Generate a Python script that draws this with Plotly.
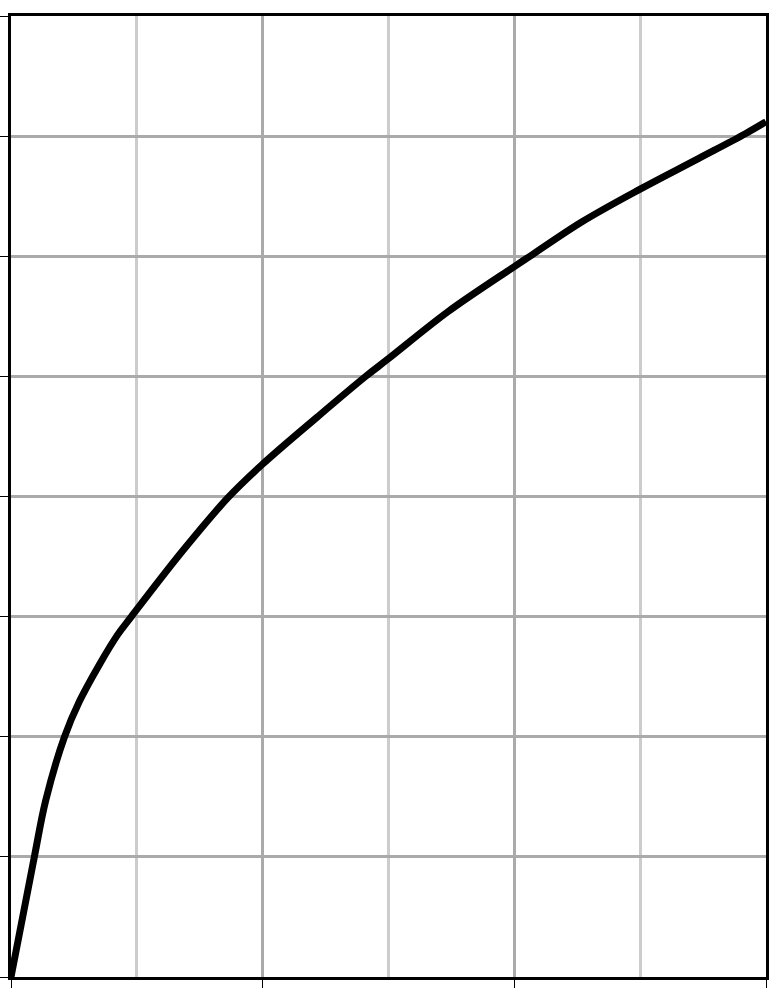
import plotly.graph_objects as go

x_vals = [0.0, 0.092, 0.138, 0.212, 0.272, 0.351, 0.424, 0.476, 0.683, 0.863, 0.997,
          1.216, 1.408, 1.499, 1.736, 2.0, 2.069, 2.269, 2.5, 2.733, 2.918, 3.0]
y_vals = [0.0, 0.992, 1.47, 1.996, 2.295, 2.60, 2.850, 2.994, 3.55, 3.992, 4.264,
          4.66, 4.998, 5.146, 5.538, 5.914, 6.01, 6.287, 6.559, 6.815, 7.02, 7.12]

fig = go.Figure()
fig.add_trace(go.Scatter(x=x_vals, y=y_vals, mode="lines",
                         line=dict(color="black", width=7, shape="spline", smoothing=1.0),
                         hoverinfo="skip", showlegend=False))

fig.update_layout(
    width=774, height=988,
    margin=dict(l=4, r=8, t=16, b=2),
    paper_bgcolor="white", plot_bgcolor="white",
)
fig.update_xaxes(range=[0, 3], dtick=1, tick0=0, showticklabels=False,
                 ticks="outside", ticklen=9, tickwidth=1, tickcolor="black",
                 showgrid=True, gridcolor="#aaaaaa", gridwidth=3,
                 minor=dict(dtick=0.5, showgrid=True, gridcolor="#cccccc", gridwidth=3),
                 showline=True, linecolor="black", linewidth=3, mirror=True, zeroline=False)
fig.update_yaxes(range=[0, 8], dtick=1, tick0=0, showticklabels=False,
                 ticks="outside", ticklen=9, tickwidth=1, tickcolor="black",
                 showgrid=True, gridcolor="#aaaaaa", gridwidth=3,
                 showline=True, linecolor="black", linewidth=3, mirror=True, zeroline=False)

fig.write_html("out.html", config={"displayModeBar": False},
               post_script="document.body.style.margin='0';document.body.style.overflow='hidden';")
